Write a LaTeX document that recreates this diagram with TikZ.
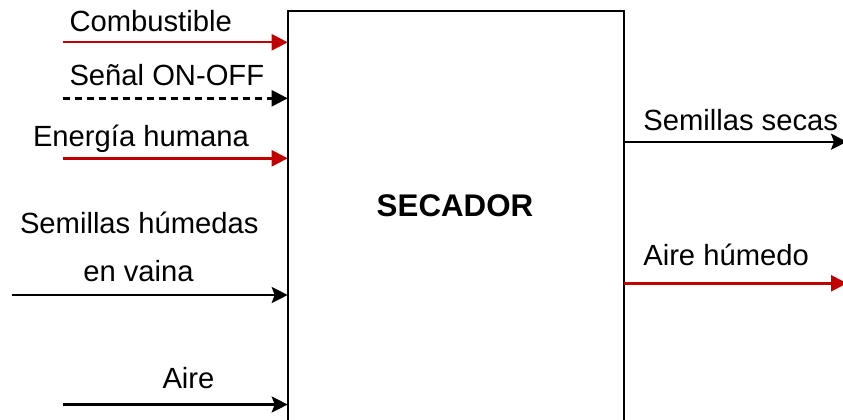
\documentclass[tikz,border=0pt]{standalone}
\usepackage{fontspec}
\setmainfont{Liberation Sans}
\usetikzlibrary{arrows.meta}
\definecolor{flowred}{HTML}{C00000}
\tikzset{
  lbl/.style={anchor=base west, inner sep=0pt, outer sep=0pt, font=\fontsize{29.2}{34}\selectfont},
  flow/.style={line width=2.4pt, -{Triangle[length=16pt,width=16pt]}},
  solidflow/.style={line width=2.4pt, -{Stealth[length=16pt,width=16pt,inset=3pt]}},
  redflow/.style={flow, draw=flowred, fill=flowred},
  signal/.style={flow, dash pattern=on 7pt off 5pt},
}
\begin{document}
\begin{tikzpicture}[x=1pt,y=-1pt]
  \useasboundingbox (0,0) rectangle (843,420);
  \clip (0,0) rectangle (843,420);

  % drying unit
  \node[draw, line width=2.4pt, outer sep=0pt, inner sep=0pt,
        minimum width=336pt, minimum height=414pt, anchor=north west]
        (sec) at (287.7,11) {};
  \node[font=\bfseries\fontsize{31.3}{36}\selectfont, anchor=base, inner sep=0pt]
        (title) at (455,216.7) {SECADOR};

  % inputs
  \coordinate (in1) at (62.7,42.3);
  \coordinate (in2) at (62.7,98.3);
  \coordinate (in3) at (62.7,158.3);
  \coordinate (in4) at (11.7,295);
  \coordinate (in5) at (62.7,404.5);

  \node[lbl] (t1) at (69.5,31.7) {Combustible};
  \node[lbl] (t2) at (69.5,85.5) {Señal ON-OFF};
  \node[lbl] (t3) at (33,146.7) {Energía humana};
  \node[lbl] (t4) at (20,233) {Semillas húmedas};
  \node[lbl] (t4b) at (83.3,281.7) {en vaina};
  \node[lbl] (t5) at (162.5,388.5) {Aire};

  \draw[redflow] (in1) -- (in1 -| sec.west);
  \draw[signal] (in2) -- (in2 -| sec.west);
  \draw[redflow] (in3) -- (in3 -| sec.west);
  \draw[solidflow] (in4) -- (in4 -| sec.west);
  \draw[solidflow] (in5) -- (in5 -| sec.west);

  % outputs
  \coordinate (out1) at (847,141.7);
  \coordinate (out2) at (847,283.3);

  \node[lbl] (o1) at (643.3,130.5) {Semillas secas};
  \node[lbl] (o2) at (643.3,265.5) {Aire húmedo};

  \draw[solidflow] (out1 -| sec.east) -- (out1);
  \draw[redflow] (out2 -| sec.east) -- (out2);
\end{tikzpicture}
\end{document}
